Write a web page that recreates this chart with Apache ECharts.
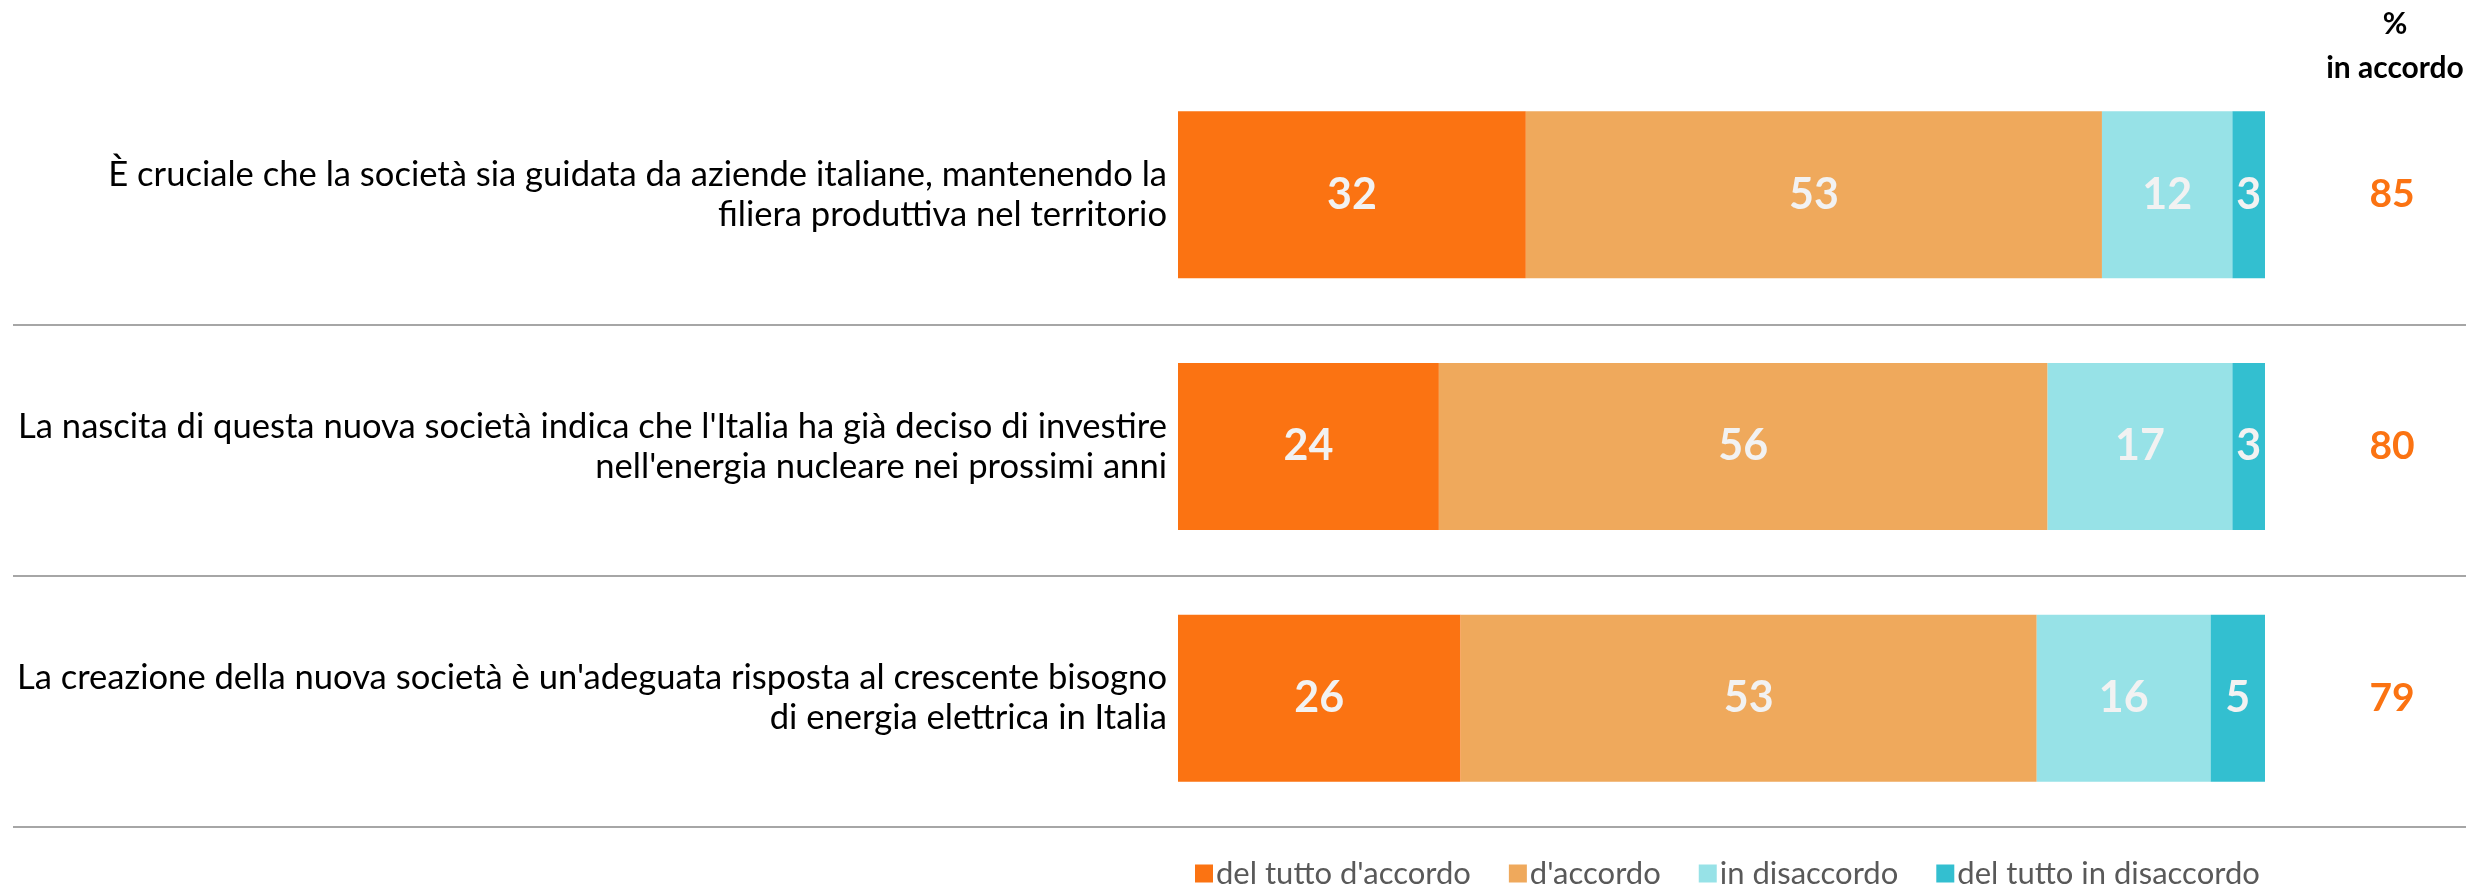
<!DOCTYPE html>
<html>
<head>
<meta charset="utf-8">
<script src="https://cdn.jsdelivr.net/npm/echarts@6/dist/echarts.min.js"></script>
<style>
    html, body { margin: 0; padding: 0; background: #fff; }
    #chart { width: 2466px; height: 884px; }
</style>
</head>
<body>
<div id="chart"></div>
<script>
// statements (top to bottom)
var categories = [
    "È cruciale che la società sia guidata da aziende italiane, mantenendo la\nfiliera produttiva nel territorio",
    "La nascita di questa nuova società indica che l'Italia ha già deciso di investire\nnell'energia nucleare nei prossimi anni",
    "La creazione della nuova società è un'adeguata risposta al crescente bisogno\ndi energia elettrica in Italia"
];
var seriesNames = ["del tutto d'accordo", "d'accordo", "in disaccordo", "del tutto in disaccordo"];
var delTuttoAccordo = [32, 24, 26];
var accordo = [53, 56, 53];
var disaccordo = [12, 17, 16];
var delTuttoDisaccordo = [3, 3, 5];
var totaleAccordo = [85, 80, 79];

var colors = ['#FB7312', '#EFA95C', '#97E2E7', '#33BFD0'];
var font = "Lato, 'Open Sans', sans-serif";

var values = [delTuttoAccordo, accordo, disaccordo, delTuttoDisaccordo];
var series = [];
for (var i = 0; i < values.length; i++) {
    series.push({
        name: seriesNames[i],
        type: 'bar',
        stack: 'tot',
        xAxisIndex: 0,
        yAxisIndex: 0,
        barWidth: 167,
        data: values[i],
        itemStyle: { color: colors[i] },
        label: {
            show: true,
            position: 'inside',
            color: '#f2f2f2',
            fontWeight: 'bold',
            fontSize: 43,
            fontFamily: font
        }
    });
}

var myChart = echarts.init(document.getElementById('chart'));
myChart.setOption({
    animation: false,
    title: {
        text: '%\nin accordo',
        left: 2390,
        top: -3,
        textAlign: 'center',
        textStyle: {
            fontFamily: font,
            fontWeight: 'bold',
            fontSize: 30,
            lineHeight: 44,
            color: '#000'
        }
    },
    legend: {
        left: 1190,
        top: 853,
        itemWidth: 18,
        itemHeight: 18,
        itemGap: 38,
        icon: 'rect',
        data: seriesNames,
        textStyle: { fontFamily: font, fontSize: 31, color: '#595959', padding: [0, 0, 0, -2] }
    },
    grid: [
        { left: 1178, right: 201, top: 69, bottom: 60 },
        { left: 13, right: 0, top: 73, bottom: 57 }
    ],
    xAxis: [
        { type: 'value', gridIndex: 0, min: 0, max: 100, show: false },
        { type: 'value', gridIndex: 1, min: 0, max: 1, show: false }
    ],
    yAxis: [
        {
            type: 'category',
            gridIndex: 0,
            inverse: true,
            data: categories,
            axisLine: { show: false },
            axisTick: { show: false },
            axisLabel: {
                margin: 11,
                fontFamily: font,
                fontSize: 34.6,
                lineHeight: 40,
                padding: [12, 0, 0, 0],
                color: '#000',
                align: 'right'
            }
        },
        {
            type: 'category',
            gridIndex: 0,
            position: 'right',
            inverse: true,
            data: totaleAccordo,
            axisLine: { show: false },
            axisTick: { show: false },
            axisLabel: {
                margin: 127,
                align: 'center',
                padding: [14, 0, 0, 0],
                fontFamily: font,
                fontWeight: 'bold',
                fontSize: 39,
                color: '#FB7312'
            }
        },
        {
            type: 'category',
            gridIndex: 1,
            inverse: true,
            data: categories,
            axisLine: { show: false },
            axisTick: { show: false },
            axisLabel: { show: false },
            splitLine: {
                show: true,
                lineStyle: { color: ['rgba(0,0,0,0)', '#A6A6A6', '#A6A6A6', '#A6A6A6'], width: 2 }
            }
        }
    ],
    series: series
});
</script>
</body>
</html>
